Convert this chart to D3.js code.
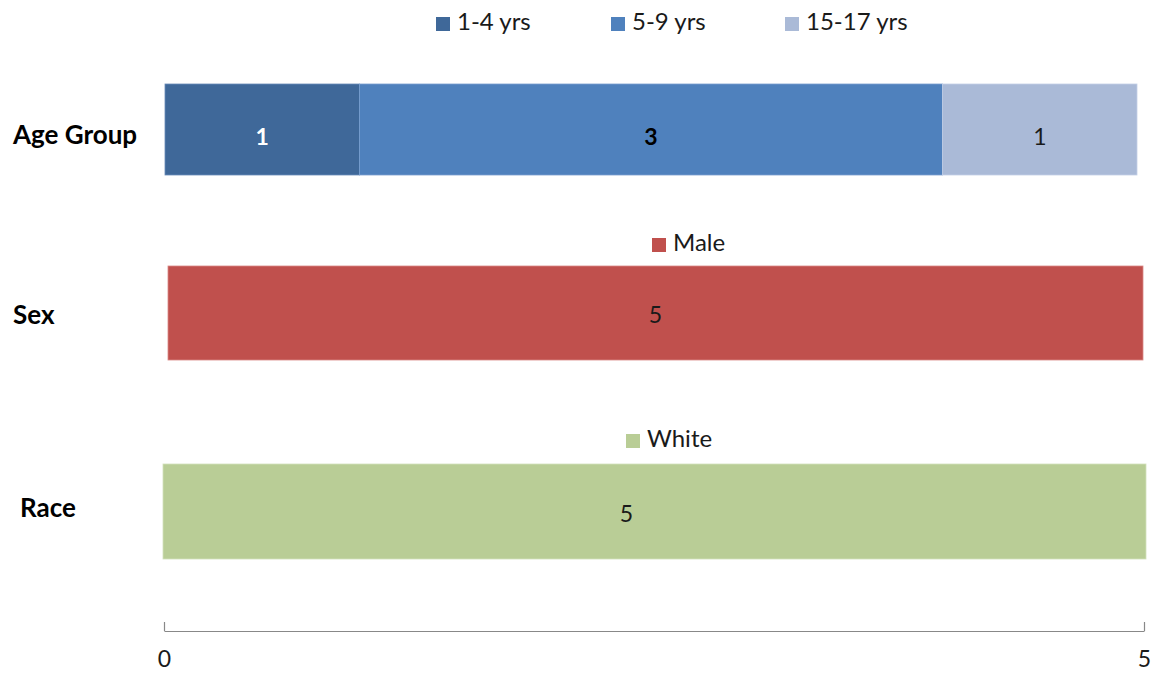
<!DOCTYPE html>
<html>
<head>
<meta charset="utf-8">
<script src="https://cdn.jsdelivr.net/npm/d3@7"></script>
<style>
  html, body { margin: 0; padding: 0; background: #ffffff; }
  svg { display: block; }
</style>
</head>
<body>
<svg id="chart" width="1153" height="675"></svg>
<script>
// Profile of cases: counts by age group, sex and race
const categories = ["Age Group", "Sex", "Race"];
const ageGroups = ["1-4 yrs", "5-9 yrs", "15-17 yrs"];
const ageValues = [1, 3, 1];
const sexGroups = ["Male"];
const sexValues = [5];
const raceGroups = ["White"];
const raceValues = [5];
const axisTicks = [0, 5];

const svg = d3.select("#chart");
const font = "Lato, 'Open Sans', sans-serif";

// Each panel: its series, colours, and where it sits on the page
const panels = [
  {
    name: categories[0], groups: ageGroups, values: ageValues,
    colors: ["#3f6899", "#4f81bd", "#aabad7"],
    edges: ["#6a8cb8", "#7a9fd0", "#c4d0e6"],
    labelColors: ["#ffffff", "#000000", "#1a1a1a"],
    labelWeights: ["bold", "bold", "normal"],
    x0: 165, x1: 1137, top: 84, bottom: 175,
    catX: 13, catY: 137, valDy: 10,
    legendY: 24, legendXs: [436, 611, 785]
  },
  {
    name: categories[1], groups: sexGroups, values: sexValues,
    colors: ["#c0504d"], edges: ["#d98886"],
    labelColors: ["#1a1a1a"], labelWeights: ["normal"],
    x0: 168, x1: 1143, top: 266, bottom: 360,
    catX: 13, catY: 317, valDy: 4,
    legendY: 245, legendXs: [652]
  },
  {
    name: categories[2], groups: raceGroups, values: raceValues,
    colors: ["#b9cd96"], edges: ["#d3e0bc"],
    labelColors: ["#1a1a1a"], labelWeights: ["normal"],
    x0: 163, x1: 1146, top: 464, bottom: 559,
    catX: 20, catY: 510, valDy: 5, valShift: -28,
    legendY: 441, legendXs: [626]
  }
];

panels.forEach(p => {
  const x = d3.scaleLinear().domain([0, d3.sum(p.values)]).range([p.x0, p.x1]);
  const stacked = p.values.map((v, i) => {
    const start = d3.sum(p.values.slice(0, i));
    return { group: p.groups[i], value: v, start, end: start + v, i };
  });
  const g = svg.append("g");

  g.selectAll("rect.seg").data(stacked).join("rect")
    .attr("class", "seg")
    .attr("x", d => x(d.start))
    .attr("y", p.top)
    .attr("width", d => x(d.end) - x(d.start))
    .attr("height", p.bottom - p.top)
    .attr("fill", d => p.colors[d.i])
    .attr("stroke", d => p.edges[d.i])
    .attr("stroke-width", 0.8);

  g.selectAll("text.val").data(stacked).join("text")
    .attr("class", "val")
    .attr("x", d => (x(d.start) + x(d.end)) / 2 + (p.valShift || 0))
    .attr("y", (p.top + p.bottom) / 2 + p.valDy)
    .attr("text-anchor", "middle")
    .attr("dominant-baseline", "middle")
    .attr("font-family", font)
    .attr("font-size", 23)
    .attr("font-weight", d => p.labelWeights[d.i])
    .attr("fill", d => p.labelColors[d.i])
    .text(d => d.value);

  // category label
  svg.append("text")
    .attr("x", p.catX)
    .attr("y", p.catY)
    .attr("dominant-baseline", "middle")
    .attr("font-family", font)
    .attr("font-size", 26)
    .attr("font-weight", "bold")
    .attr("fill", "#000")
    .text(p.name);

  // legend
  const lg = svg.append("g");
  const items = lg.selectAll("g").data(p.groups).join("g")
    .attr("transform", (d, i) => `translate(${p.legendXs[i]},${p.legendY})`);
  items.append("rect")
    .attr("x", 0).attr("y", -7).attr("width", 14).attr("height", 14)
    .attr("fill", (d, i) => p.colors[i]);
  items.append("text")
    .attr("x", 21).attr("y", 0)
    .attr("dominant-baseline", "middle")
    .attr("font-family", font)
    .attr("font-size", 24)
    .attr("fill", "#1a1a1a")
    .text(d => d);
});

// shared value axis along the bottom
const xAxisScale = d3.scaleLinear().domain([0, 5]).range([164, 1144]);
const axis = d3.axisBottom(xAxisScale)
  .tickValues(axisTicks)
  .tickSizeInner(-9)
  .tickSizeOuter(0)
  .tickPadding(20)
  .tickFormat(d3.format("d"));
const ag = svg.append("g").attr("transform", "translate(0,631)").call(axis);
ag.select(".domain").attr("stroke", "#888888").attr("stroke-width", 1.2);
ag.selectAll(".tick line").attr("stroke", "#888888").attr("stroke-width", 1.2);
ag.selectAll(".tick text")
  .attr("font-family", font)
  .attr("font-size", 23)
  .attr("fill", "#1a1a1a");
</script>
</body>
</html>
